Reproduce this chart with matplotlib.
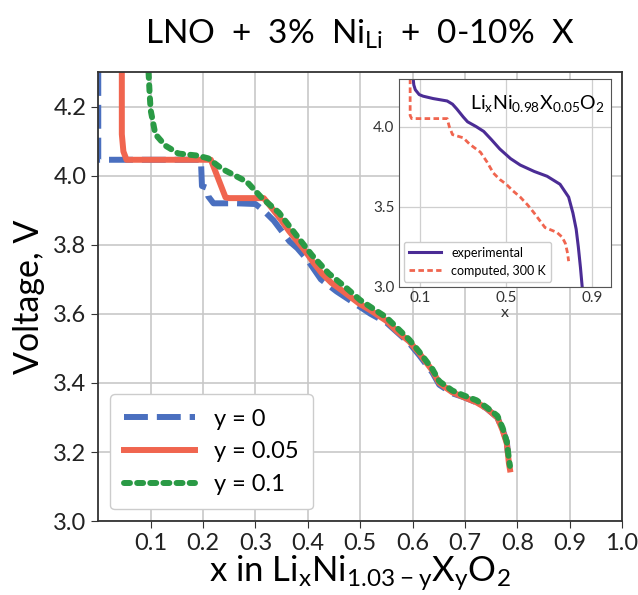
import matplotlib
matplotlib.use("Agg")
import matplotlib.pyplot as plt

plt.rcParams['font.family'] = ['Lato', 'DejaVu Sans']
plt.rcParams['mathtext.default'] = 'regular'

# main panel: x in LixNi(1.03-y)XyO2 vs voltage
x_y0 = [0.0, 0.0, 0.196, 0.198, 0.207, 0.21, 0.22, 0.265, 0.30, 0.315, 0.335, 0.35, 0.365, 0.38,
        0.40, 0.425, 0.455, 0.49, 0.52, 0.55, 0.594, 0.613, 0.638, 0.651, 0.676, 0.696, 0.722,
        0.741, 0.762, 0.772, 0.78, 0.784]
v_y0 = [4.30, 4.046, 4.046, 3.97, 3.965, 3.94, 3.92, 3.92, 3.918, 3.90, 3.87, 3.84, 3.81, 3.79,
        3.755, 3.70, 3.665, 3.63, 3.60, 3.575, 3.515, 3.48, 3.43, 3.395, 3.37, 3.36, 3.344,
        3.327, 3.30, 3.265, 3.23, 3.17]

x_y005 = [0.045, 0.045, 0.048, 0.054, 0.215, 0.243, 0.25, 0.316, 0.331, 0.35, 0.364, 0.38, 0.396,
          0.41, 0.427, 0.445, 0.466, 0.498, 0.52, 0.55, 0.57, 0.594, 0.613, 0.638, 0.651, 0.676,
          0.696, 0.722, 0.741, 0.762, 0.772, 0.78, 0.784, 0.786]
v_y005 = [4.30, 4.12, 4.07, 4.046, 4.046, 3.937, 3.935, 3.935, 3.907, 3.87, 3.84, 3.81, 3.78,
          3.75, 3.717, 3.69, 3.667, 3.63, 3.61, 3.58, 3.55, 3.52, 3.486, 3.436, 3.40, 3.373,
          3.36, 3.344, 3.327, 3.30, 3.263, 3.225, 3.168, 3.15]

x_y01 = [0.096, 0.098, 0.1, 0.109, 0.128, 0.153, 0.19, 0.21, 0.236, 0.274, 0.287, 0.312, 0.345,
         0.377, 0.408, 0.44, 0.473, 0.50, 0.55, 0.594, 0.613, 0.638, 0.651, 0.676, 0.696, 0.722,
         0.741, 0.762, 0.772, 0.78, 0.784, 0.786]
v_y01 = [4.30, 4.24, 4.19, 4.12, 4.087, 4.064, 4.058, 4.05, 4.02, 3.99, 3.977, 3.936, 3.893,
         3.83, 3.77, 3.717, 3.676, 3.64, 3.59, 3.525, 3.49, 3.44, 3.405, 3.378, 3.365, 3.35,
         3.33, 3.305, 3.27, 3.23, 3.18, 3.16]

# inset: LixNi0.98X0.05O2
x_exp = [0.067, 0.07, 0.077, 0.095, 0.113, 0.16, 0.225, 0.25, 0.27, 0.3, 0.32, 0.36, 0.395, 0.43,
         0.47, 0.52, 0.565, 0.63, 0.69, 0.75, 0.79, 0.81, 0.825, 0.835, 0.845, 0.853]
v_exp = [4.30, 4.26, 4.23, 4.20, 4.19, 4.175, 4.16, 4.14, 4.11, 4.06, 4.03, 4.00, 3.97, 3.92,
         3.86, 3.80, 3.76, 3.72, 3.69, 3.64, 3.56, 3.46, 3.36, 3.25, 3.12, 3.0]
x_comp = [0.053, 0.053, 0.06, 0.225, 0.235, 0.25, 0.30, 0.33, 0.38, 0.41, 0.44, 0.47, 0.50, 0.53,
          0.565, 0.6, 0.63, 0.68, 0.735, 0.76, 0.775, 0.785, 0.79]
v_comp = [4.30, 4.07, 4.05, 4.05, 4.0, 3.95, 3.93, 3.89, 3.84, 3.78, 3.71, 3.67, 3.64, 3.60,
          3.56, 3.51, 3.46, 3.37, 3.34, 3.31, 3.27, 3.21, 3.16]

blue = '#4a6fbf'
red = '#f0654f'
green = '#2a9a45'
purple = '#4b2c95'

fig = plt.figure(figsize=(6.38, 5.95), dpi=100)
ax = fig.add_axes([0.154, 0.124, 0.821, 0.755])

ax.plot(x_y0, v_y0, color=blue, lw=4.3, dashes=(4, 1.5), label='y = 0')
ax.plot(x_y005, v_y005, color=red, lw=4.3, label='y = 0.05')
ax.plot(x_y01, v_y01, color=green, lw=4.3, dashes=(1.0, 1.2), dash_capstyle='round',
        label='y = 0.1')

ax.set_xlim(0, 1.0)
ax.set_ylim(3.0, 4.3)
ax.set_xticks([0.1, 0.2, 0.3, 0.4, 0.5, 0.6, 0.7, 0.8, 0.9, 1.0])
ax.set_yticks([3.0, 3.2, 3.4, 3.6, 3.8, 4.0, 4.2])
ax.tick_params(labelsize=17, length=5, color='#333333', labelcolor='#222222')
ax.grid(True, color='#c8c8c8', lw=1.2)
for s in ax.spines.values():
    s.set_color('#333333')
    s.set_linewidth(1.3)
ax.set_xlabel('x in Li$_x$Ni$_{1.03-y}$X$_y$O$_2$', fontsize=25, labelpad=0)
ax.set_ylabel('Voltage, V', fontsize=24.5, labelpad=6)
ax.set_title('LNO  +  3%  Ni$_{Li}$  +  0-10%  X', fontsize=24, pad=20)
leg = ax.legend(loc='lower left', fontsize=17, handlelength=3.0, borderpad=0.6,
                labelspacing=0.5, framealpha=1, edgecolor='#cccccc')

# inset
ins = fig.add_axes([0.625, 0.518, 0.332, 0.35])
ins.plot(x_exp, v_exp, color=purple, lw=2.2, label='experimental')
ins.plot(x_comp, v_comp, color=red, lw=2.0, dashes=(2, 1.2), label='computed, 300 K')
ins.set_xlim(0, 0.985)
ins.set_ylim(3.0, 4.3)
ins.set_xticks([0.1, 0.5, 0.9])
ins.set_yticks([3.0, 3.5, 4.0])
ins.tick_params(labelsize=11, length=0, pad=3, colors='#333333')
ins.grid(True, color='#cfcfcf', lw=0.9)
for s in ins.spines.values():
    s.set_color('#555555')
ins.set_xlabel('x', fontsize=11.5, labelpad=1, color='#333333')
ins.text(0.97, 0.93, 'Li$_x$Ni$_{0.98}$X$_{0.05}$O$_2$', transform=ins.transAxes,
         ha='right', va='top', fontsize=14)
ins.legend(loc='lower left', fontsize=9, handlelength=2.6, framealpha=1,
           edgecolor='#cccccc', borderaxespad=0.4)

fig.savefig('out.png', dpi=100)
